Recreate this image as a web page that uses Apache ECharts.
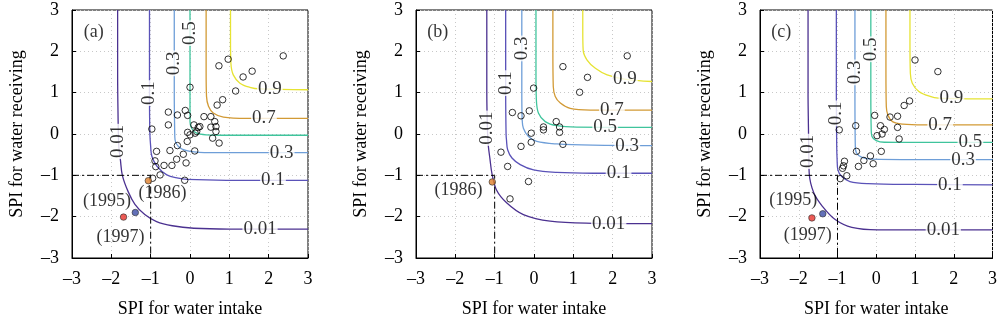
<!DOCTYPE html>
<html>
<head>
<meta charset="utf-8">
<script src="https://cdn.jsdelivr.net/npm/echarts@6/dist/echarts.min.js"></script>
<style>
html, body { margin: 0; padding: 0; background: #fff; }
#chart { width: 1000px; height: 325px; }
</style>
</head>
<body>
<div id="chart"></div>
<script>
// Joint-probability contour levels and axis ticks
const levels = ['0.01', '0.1', '0.3', '0.5', '0.7', '0.9'];
const ticks = [-3, -2, -1, 0, 1, 2, 3];
const panelTags = ['(a)', '(b)', '(c)'];

// Contour paths, one list of [SPI intake, SPI receiving] per level (panel a)
const contoursA = [
  [[-1.84, 3], [-1.84, 1.5], [-1.83, 0.5], [-1.81, -0.3], [-1.77, -0.62], [-1.72, -1.0], [-1.57, -1.4], [-1.40, -1.7], [-1.15, -1.95], [-0.85, -2.12], [-0.45, -2.22], [0.1, -2.28], [1.0, -2.30], [3, -2.30]],
  [[-1.03, 3], [-1.03, 1], [-1.02, 0], [-1.0, -0.3], [-0.97, -0.54], [-0.84, -0.78], [-0.59, -0.99], [-0.3, -1.07], [-0.08, -1.10], [0.93, -1.12], [3, -1.12]],
  [[-0.40, 3], [-0.40, 1], [-0.39, 0.1], [-0.38, -0.14], [-0.25, -0.34], [0, -0.42], [0.51, -0.45], [3, -0.45]],
  [[0, 3], [0, 1], [0, 0.3], [0.04, 0.14], [0.17, 0.02], [0.42, -0.02], [1, -0.03], [3, -0.03]],
  [[0.41, 3], [0.41, 1.5], [0.42, 0.91], [0.47, 0.67], [0.59, 0.51], [0.85, 0.41], [1.44, 0.38], [3, 0.38]],
  [[1.03, 3], [1.03, 2.2], [1.04, 1.71], [1.10, 1.43], [1.27, 1.23], [1.52, 1.13], [1.78, 1.09], [3, 1.07]]
];
// Contour paths (panel b)
const contoursB = [
  [[-1.20, 3], [-1.20, 1], [-1.18, 0], [-1.16, -0.30], [-1.12, -0.6], [-1.07, -0.95], [-0.95, -1.36], [-0.69, -1.67], [-0.27, -1.95], [0.41, -2.11], [1.5, -2.16], [3, -2.17]],
  [[-0.72, 3], [-0.72, 1], [-0.71, 0], [-0.70, -0.14], [-0.67, -0.38], [-0.56, -0.58], [-0.35, -0.74], [-0.01, -0.87], [0.58, -0.93], [1.5, -0.95], [3, -0.95]],
  [[-0.31, 3], [-0.31, 1], [-0.30, 0.34], [-0.27, 0.14], [-0.14, -0.06], [0.07, -0.18], [0.58, -0.24], [1.5, -0.27], [3, -0.28]],
  [[0.05, 3], [0.05, 1.5], [0.06, 0.83], [0.115, 0.50], [0.285, 0.30], [0.58, 0.20], [1.09, 0.165], [3, 0.16]],
  [[0.48, 3], [0.48, 2], [0.49, 1.15], [0.54, 0.91], [0.67, 0.75], [0.92, 0.62], [1.43, 0.58], [3, 0.58]],
  [[1.24, 3], [1.24, 2.5], [1.25, 2.03], [1.35, 1.79], [1.56, 1.59], [1.86, 1.43], [2.3, 1.33], [3, 1.27]]
];
// Contour paths (panel c)
const contoursC = [
  [[-1.76, 3], [-1.76, 1], [-1.75, 0.18], [-1.74, -0.5], [-1.73, -0.95], [-1.61, -1.43], [-1.39, -1.75], [-1.06, -2.07], [-0.63, -2.26], [0.04, -2.32], [3, -2.32]],
  [[-1.03, 3], [-1.03, 1], [-1.02, -0.3], [-1.01, -0.62], [-0.99, -0.87], [-0.89, -1.03], [-0.68, -1.15], [-0.21, -1.20], [1, -1.22], [3, -1.23]],
  [[-0.55, 3], [-0.55, 1], [-0.54, -0.30], [-0.51, -0.46], [-0.38, -0.56], [-0.13, -0.61], [1, -0.62], [3, -0.62]],
  [[-0.14, 3], [-0.14, 1], [-0.13, 0.10], [-0.11, -0.06], [0.0, -0.16], [0.21, -0.20], [1, -0.205], [3, -0.205]],
  [[0.25, 3], [0.25, 1.5], [0.26, 0.66], [0.30, 0.46], [0.42, 0.30], [0.68, 0.24], [1.22, 0.22], [3, 0.22]],
  [[0.87, 3], [0.87, 2.2], [0.88, 1.47], [0.93, 1.23], [1.10, 1.03], [1.39, 0.91], [1.6, 0.87], [3, 0.85]]
];

// Observed annual SPI pairs
const obsA = [
  [2.37, 1.89], [0.97, 1.81], [0.735, 1.65], [1.58, 1.52], [1.35, 1.38], [1.16, 1.04], [0.0, 1.13],
  [0.83, 0.83], [0.69, 0.70], [-0.55, 0.53], [-0.12, 0.57], [-0.32, 0.46], [-0.06, 0.45], [0.355, 0.42],
  [0.53, 0.42], [-0.55, 0.22], [0.63, 0.30], [0.10, 0.22], [0.21, 0.16], [0.25, 0.18], [0.53, 0.165],
  [0.66, 0.18], [-0.06, 0.04], [0.0, -0.02], [0.13, 0.02], [0.17, 0.06], [0.66, 0.06], [-0.97, 0.12],
  [0.575, -0.10], [0.74, -0.22], [-0.07, -0.18], [-0.32, -0.28], [-0.85, -0.42], [-0.51, -0.40],
  [0.12, -0.41], [-0.17, -0.49], [-0.89, -0.65], [-0.34, -0.61], [-0.10, -0.70], [-0.66, -0.76],
  [-0.46, -0.76], [-0.87, -0.79], [-0.76, -0.99], [-0.95, -1.07], [-0.135, -1.12]
];
const obsB = [
  [2.37, 1.89], [0.735, 1.63], [1.36, 1.37], [1.16, 1.01], [-0.01, 1.11], [-0.55, 0.52], [-0.33, 0.44],
  [-0.12, 0.56], [0.565, 0.30], [0.65, 0.17], [0.65, 0.04], [0.24, 0.17], [0.24, 0.10], [-0.07, 0.02],
  [-0.07, -0.20], [0.735, -0.25], [-0.33, -0.30], [-0.84, -0.44], [-0.67, -0.785], [-0.14, -1.15], [-0.61, -1.57]
];
const obsC = [
  [1.0, 1.79], [1.59, 1.51], [0.86, 0.80], [0.72, 0.69], [0.55, 0.43], [0.355, 0.41], [-0.04, 0.45],
  [-0.53, 0.20], [-0.955, 0.10], [0.11, 0.20], [0.21, 0.11], [0.15, 0.0], [0.02, -0.04], [0.55, 0.16],
  [0.59, -0.12], [-0.51, -0.42], [0.13, -0.42], [-0.15, -0.53], [-0.32, -0.64], [-0.08, -0.72],
  [-0.46, -0.785], [-0.82, -0.66], [-0.845, -0.77], [-0.87, -0.83], [-0.76, -1.01], [-0.93, -1.08]
];

// Drought years highlighted: [intake, receiving, year]
const eventsA = [[-1.06, -1.13, '1986'], [-1.69, -2.01, '1995'], [-1.39, -1.90, '1997']];
const eventsB = [[-1.06, -1.16, '1986']];
const eventsC = [[-1.66, -2.03, '1995'], [-1.38, -1.93, '1997']];

// Year annotations: [intake, receiving, text]
const yearTextA = [[-2.11, -1.63, '(1995)'], [-1.77, -2.49, '(1997)'], [-0.70, -1.43, '(1986)']];
const yearTextB = [[-1.92, -1.37, '(1986)']];
const yearTextC = [[-2.14, -1.61, '(1995)'], [-1.77, -2.44, '(1997)']];

// Contour level labels on vertical branches and horizontal branches: [intake, receiving, level]
const vLabelsA = [[-1.82, -0.18, '0.01'], [-1.03, 0.99, '0.1'], [-0.40, 1.71, '0.3'], [0.0, 2.44, '0.5']];
const hLabelsA = [[2.03, 1.08, '0.9'], [1.88, 0.38, '0.7'], [2.33, -0.45, '0.3'], [2.11, -1.12, '0.1'], [1.78, -2.30, '0.01']];
const vLabelsB = [[-1.19, 0.14, '0.01'], [-0.72, 1.23, '0.1'], [-0.31, 2.07, '0.3']];
const hLabelsB = [[2.31, 1.33, '0.9'], [1.98, 0.58, '0.7'], [1.81, 0.165, '0.5'], [2.37, -0.28, '0.3'], [2.15, -0.95, '0.1'], [1.90, -2.17, '0.01']];
const vLabelsC = [[-1.75, -0.42, '0.01'], [-1.03, 0.50, '0.1'], [-0.55, 1.49, '0.3'], [-0.14, 2.05, '0.5']];
const hLabelsC = [[1.94, 0.87, '0.9'], [1.65, 0.22, '0.7'], [2.43, -0.205, '0.5'], [2.24, -0.62, '0.3'], [1.90, -1.23, '0.1'], [1.73, -2.32, '0.01']];

// Drought threshold (SPI = -1) guide
const threshold = [[-3, -1], [-1, -1], [-1, -3]];
const tagPos = [-2.45, 2.45];

// ---- styling ----
const FONT = 'Liberation Serif';
const levelColor = {
  '0.01': '#4b3190', '0.1': '#5a52b8', '0.3': '#6e9ed8',
  '0.5': '#3fc49c', '0.7': '#d29a35', '0.9': '#e6e333'
};
const yearColor = { '1986': '#e07f2a', '1995': '#e8322c', '1997': '#3b4ca6' };
const gridLefts = [72, 416, 760];

const fmtTick = v => (v < 0 ? '\u2013' + Math.abs(v) : String(v));

const grids = [], xAxes = [], yAxes = [], series = [];

const panels = [
  { contours: contoursA, obs: obsA, events: eventsA, years: yearTextA, v: vLabelsA, h: hLabelsA },
  { contours: contoursB, obs: obsB, events: eventsB, years: yearTextB, v: vLabelsB, h: hLabelsB },
  { contours: contoursC, obs: obsC, events: eventsC, years: yearTextC, v: vLabelsC, h: hLabelsC }
];

panels.forEach((p, i) => {
  grids.push({ left: gridLefts[i], top: 10, width: 236, height: 248, show: true,
    borderColor: '#000', borderWidth: 1, backgroundColor: '#fff' });
  const axisCommon = {
    gridIndex: i, type: 'value', min: ticks[0], max: ticks[ticks.length - 1], interval: 1,
    axisLine: { show: true, onZero: false, lineStyle: { color: '#000', width: 1 } },
    axisTick: { show: true, inside: true, length: 4, lineStyle: { color: '#000' } },
    splitLine: { show: true, lineStyle: { color: '#c8c8c8', type: [1, 3], width: 1 } },
    axisLabel: { color: '#000', fontFamily: FONT, fontSize: 18, formatter: fmtTick },
    nameTextStyle: { color: '#000', fontFamily: FONT, fontSize: 18 },
    nameLocation: 'middle'
  };
  xAxes.push(Object.assign({}, axisCommon, {
    name: 'SPI for water intake', nameGap: 42,
    axisLabel: Object.assign({}, axisCommon.axisLabel, { margin: 12 })
  }));
  yAxes.push(Object.assign({}, axisCommon, {
    name: 'SPI for water receiving', nameGap: 46, nameRotate: 90,
    axisLabel: Object.assign({}, axisCommon.axisLabel, { margin: 13 })
  }));

  // contour lines
  p.contours.forEach((path, k) => {
    series.push({
      type: 'line', xAxisIndex: i, yAxisIndex: i, data: path, smooth: 0.35,
      symbol: 'none', silent: true, z: 2,
      lineStyle: { color: levelColor[levels[k]], width: 1.3 }
    });
  });

  // SPI = -1 guide
  series.push({
    type: 'line', xAxisIndex: i, yAxisIndex: i, data: threshold, symbol: 'none', silent: true, z: 2,
    lineStyle: { color: '#000', width: 1, type: [7, 3, 2, 3] }
  });

  // level labels
  const lbl = (rot) => ({
    show: true, position: 'inside', formatter: d => d.value[2], rotate: rot,
    fontFamily: FONT, fontSize: 19, color: '#000', backgroundColor: '#fff', padding: [0, 1]
  });
  series.push({ type: 'scatter', xAxisIndex: i, yAxisIndex: i, data: p.v, symbolSize: 0, z: 3,
    silent: true, label: lbl(90) });
  series.push({ type: 'scatter', xAxisIndex: i, yAxisIndex: i, data: p.h, symbolSize: 0, z: 3,
    silent: true, label: lbl(0) });

  // observations
  series.push({
    type: 'scatter', xAxisIndex: i, yAxisIndex: i, data: p.obs, symbol: 'circle', symbolSize: 6.5, z: 4,
    itemStyle: { color: 'rgba(0,0,0,0)', borderColor: '#000', borderWidth: 1 }
  });

  // highlighted drought years
  series.push({
    type: 'scatter', xAxisIndex: i, yAxisIndex: i, data: p.events, symbol: 'circle', symbolSize: 6.5, z: 5,
    itemStyle: { color: d => yearColor[d.value[2]], borderColor: '#333', borderWidth: 0.8 }
  });
  series.push({
    type: 'scatter', xAxisIndex: i, yAxisIndex: i, data: p.years, symbolSize: 0, z: 5, silent: true,
    label: { show: true, position: 'inside', formatter: d => d.value[2], fontFamily: FONT, fontSize: 18, color: '#000' }
  });

  // panel tag
  series.push({
    type: 'scatter', xAxisIndex: i, yAxisIndex: i, data: [tagPos], symbolSize: 0, z: 5, silent: true,
    label: { show: true, position: 'inside', formatter: panelTags[i], fontFamily: FONT, fontSize: 18, color: '#000' }
  });
});

const chart = echarts.init(document.getElementById('chart'), null, { renderer: 'canvas' });
chart.setOption({
  animation: false,
  backgroundColor: '#fff',
  grid: grids,
  xAxis: xAxes,
  yAxis: yAxes,
  series: series
});
</script>
</body>
</html>
